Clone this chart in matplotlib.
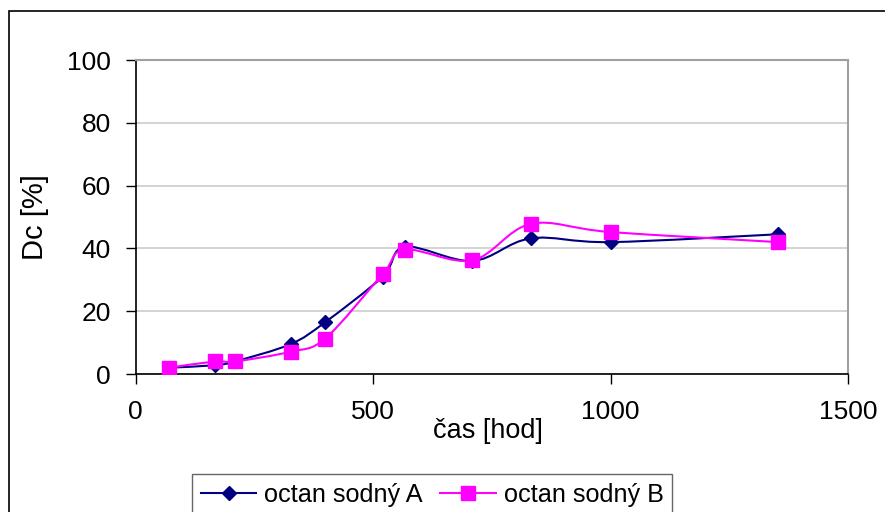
import matplotlib
matplotlib.use("Agg")
import matplotlib.pyplot as plt
from matplotlib.path import Path
from matplotlib.patches import PathPatch, Rectangle
from matplotlib.lines import Line2D
import numpy as np

plt.rcParams['font.family'] = ['Liberation Sans', 'DejaVu Sans']

# Data
time_h = [70, 167, 209, 326, 399, 520, 567, 709, 832, 1000, 1353]
dc_A = [2.0, 2.8, 4.0, 9.5, 16.5, 31.0, 40.5, 36.0, 43.2, 42.0, 44.5]
dc_B = [2.0, 4.0, 4.0, 7.1, 11.3, 31.8, 39.6, 36.2, 47.8, 45.2, 42.0]
x_ticks = [0, 500, 1000, 1500]
y_ticks = [0, 20, 40, 60, 80, 100]
labels = ['octan sodný A', 'octan sodný B']
colA = '#000080'
colB = '#FF00FF'

W, H = 885, 512
fig = plt.figure(figsize=(W / 100, H / 100), dpi=100)
ax = fig.add_axes([135.7 / W, 1 - 374 / H, (848 - 135.7) / W, (374 - 60) / H])


def smooth_path(xs, ys):
    pts = np.column_stack([xs, ys]).astype(float)
    n = len(pts)
    verts = [pts[0]]
    codes = [Path.MOVETO]
    for i in range(n - 1):
        p0 = pts[i - 1] if i > 0 else pts[i]
        p1 = pts[i]
        p2 = pts[i + 1]
        p3 = pts[i + 2] if i + 2 < n else pts[i + 1]
        c1 = p1 + (p2 - p0) / 6.0
        c2 = p2 - (p3 - p1) / 6.0
        verts += [c1, c2, p2]
        codes += [Path.CURVE4] * 3
    return Path(verts, codes)


ax.add_patch(PathPatch(smooth_path(time_h, dc_A), fill=False, edgecolor=colA,
                       lw=1.5, zorder=3))
ax.plot(time_h, dc_A, linestyle='none', marker='D', ms=7, color=colA, zorder=4)
ax.add_patch(PathPatch(smooth_path(time_h, dc_B), fill=False, edgecolor=colB,
                       lw=1.5, zorder=5))
ax.plot(time_h, dc_B, linestyle='none', marker='s', ms=9.5, color=colB, zorder=6)

ax.set_xlim(0, 1500)
ax.set_ylim(0, 100)
ax.set_xticks(x_ticks)
ax.set_yticks(y_ticks)
ax.yaxis.grid(True, color='#d0d0d0', lw=1.3)
ax.set_axisbelow(True)
ax.tick_params(axis='both', labelsize=19, length=7, width=1, direction='out',
               colors='black')
ax.tick_params(axis='y', pad=11)
ax.tick_params(axis='x', pad=12)
for s in ['left', 'bottom']:
    ax.spines[s].set_color('black')
    ax.spines[s].set_linewidth(1.2)
for s in ['top', 'right']:
    ax.spines[s].set_color('#a0a0a0')
    ax.spines[s].set_linewidth(1.5)

ax.set_xlabel('čas [hod]', fontsize=19.5, va='center')
ax.xaxis.set_label_coords(0.495, -0.182)
ax.set_ylabel('Dc [%]', fontsize=21, va='center')
ax.yaxis.set_label_coords(-0.142, 0.5)

handles = [Line2D([], [], color=colA, lw=1.5, marker='D', ms=7),
           Line2D([], [], color=colB, lw=1.5, marker='s', ms=9.5)]
leg = fig.legend(handles, labels, loc='upper left', ncol=2,
                 bbox_to_anchor=(192 / W, 1 - 474 / H), borderaxespad=0,
                 fontsize=18.2, frameon=True, fancybox=False, handlelength=2.2,
                 handletextpad=0.3, columnspacing=0.7, borderpad=0.35)
leg.get_frame().set_edgecolor('#404040')
leg.get_frame().set_linewidth(1.0)

fig.patches.append(Rectangle((9 / W, -0.1), 1.2, 1 - 11 / H + 0.1,
                             transform=fig.transFigure, fill=False,
                             edgecolor='black', lw=1.2, zorder=0))

fig.savefig('out.png', dpi=100)
